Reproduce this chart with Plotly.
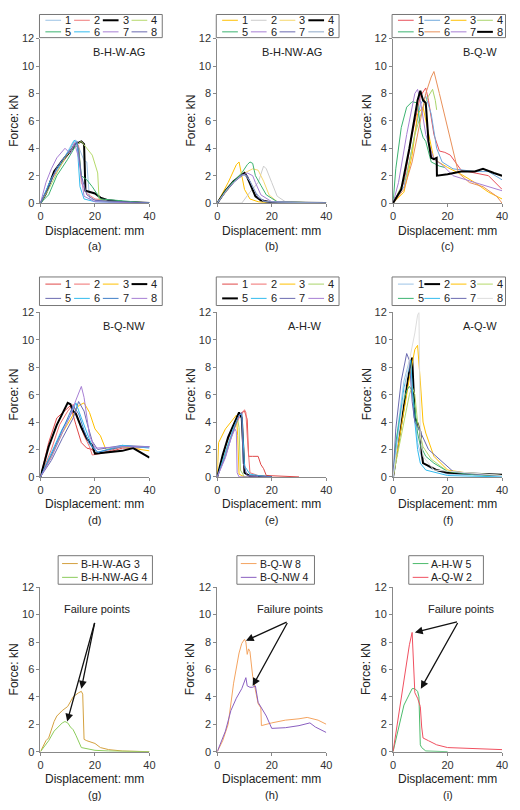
import plotly.graph_objects as go

W, H = 504, 794
OFF = 8
FONT = "Liberation Sans, Arial, sans-serif"

# ---------------- data ----------------
A_NAMES = ["1", "2", "3", "4", "5", "6", "7", "8"]
A_X = [[0,3,6,9,12,13,15,16,17,18,25,40],
       [0,4,8,11,12.5,14,15,17,20,30,40],
       [0,2,5,8,11,13,15,16,16.5,20,22,25,30,35,40],
       [0,3,6,9,12,15,17,19,21,21.5,25,40],
       [0,3,6,10,13,14,15,17,19,22,40],
       [0,4,8,11,12.5,13.5,14.5,16,20,40],
       [0,2,4,6,9,11,12.5,14,16,20,40],
       [0,3,6,9,12,13.5,15,17,20,40]]
A_Y = [[0,1.2,2.5,3.4,4.5,4.6,3.5,3.1,3.0,0.3,0.1,0],
       [0,1.7,2.9,3.8,4.4,4.2,1.5,0.7,0.3,0.1,0],
       [0,0.7,2.3,3.1,3.8,4.3,4.5,4.3,0.9,0.7,0.4,0.2,0.1,0.05,0],
       [0,1,2.2,3.3,4.1,4.5,4.0,3.5,2.2,0.3,0.1,0],
       [0,0.6,2.0,3.2,4.2,4.0,2.0,1.7,1.2,0.3,0],
       [0,1.8,3.1,4.0,4.6,4.2,1.2,0.3,0.1,0],
       [0,1.5,2.5,3.3,4.0,3.6,4.4,3.3,0.5,0.1,0],
       [0,1.2,2.6,3.4,4.1,4.5,2.0,0.6,0.2,0]]
A_COLORS = ["#9dc3e6", "#f07a7a", "#000000", "#b5d96b", "#3cb371", "#33bbee", "#a77fd4", "#6a6ab0"]

B_X = [[0,4,7,8,10,12,15,20,40],
       [0,6,9,12,15,17,18,20,22,25,40],
       [0,4,8,11,13,15,17,19,22,40],
       [0,3,6,9,10,11,13,14,16,20,40],
       [0,3,6,9,11,12,13,14,16,18,22,40],
       [0,3,6,9,11,13,14,16,20,40],
       [0,3,6,9,11,13,15,18,40],
       [0,4,8,10,12,14,17,40]]
B_Y = [[0,1.5,2.8,3.0,1.0,0.3,0.1,0,0],
       [0,0,0,0.8,1.5,2.7,2.5,1.5,0.5,0.1,0],
       [0,1.0,2.0,2.3,2.5,2.4,1.6,0.6,0.1,0],
       [0,0.9,1.6,2.1,2.2,1.9,1.0,0.5,0.2,0.05,0],
       [0,0.9,1.6,2.2,2.8,3.0,2.9,2.0,1.3,0.6,0.1,0],
       [0,0.8,1.5,2.0,2.2,2.0,1.5,0.6,0.1,0],
       [0,0.8,1.5,2.1,2.0,1.2,0.4,0.1,0],
       [0,1.1,1.9,2.1,1.6,0.8,0.1,0]]
B_COLORS = ["#ffc000", "#cccccc", "#f5d76e", "#000000", "#3cb371", "#a77fd4", "#6a6ab0", "#8fa8c8"]

C_X = [[0,4,7,10,12,13,15,17,19,21,25,30,35,40],
       [0,4,7,10,12,14,16,18,22,30,35,40],
       [0,4,7,9,11,13,15,20,25,30,35,40],
       [0,5,8,11,13,14.5,15.5,16],
       [0,1,3,5,7,9,10,11,12,14,17,19],
       [0,4,7,10,12,14,15,17,20,22,24,28,33,38,40],
       [0,2,5,8,9,10,12,15,18,22,30,35,40],
       [0,3,6,9,10,11,12,13,14,15,16,16.1,20,25,30,33,37,40]]
C_Y = [[0,1.5,5,7.8,8.4,7.5,5,3.8,3.7,3.5,2.4,2.2,2.0,1.0],
       [0,1.2,4,7.2,7.8,6.5,4,3.0,2.5,2.3,2.3,1.7],
       [0,0.8,3.5,6.5,7.0,5,3.2,2.6,2.1,1.5,0.8,0.3],
       [0,2,5,7,7.8,8.3,7.5,6.8],
       [0,2.5,5.5,7,7.4,7.3,5.5,4.8,4.5,3.0,2.7,2.6],
       [0,1.0,3,6,8,9.2,9.6,8,5.5,3.8,2.2,1.5,1.2,0.5,0],
       [0,1.5,5,8,8.3,7.5,5,3.2,2.8,2.0,1.5,1.2,0.9],
       [0,1,4,7.5,8.2,7.5,7.3,4.5,3.3,3.2,3.3,2.0,2.1,2.3,2.3,2.5,2.2,2.0]]
C_COLORS = ["#e8505a", "#6fa8dc", "#ffc000", "#a9d46b", "#3cb371", "#e8905a", "#a77fd4", "#000000"]

D_X = [[0,3,6,9,11,13,15,17,19,20,25,30,35,40],
       [0,4,7,10,12,14,16,18,19,22,30,40],
       [0,4,8,12,14,16,18,20,22,24,30,40],
       [0,3,6,9,10,11,12,13,15,17,19,20,25,30,34,38,40],
       [0,4,8,12,14,16,17,19,21,30,40],
       [0,4,8,11,13,15,17,19,21,30,40],
       [0,4,8,11,12,14,16,18,21,30,40],
       [0,4,8,11,13,15,16,17,18,20,30,40]]
D_Y = [[0,2.5,4.3,4.8,5.2,3.8,2.5,2.1,2.0,1.7,1.8,2.1,2.1,2.2],
       [0,2,3.8,4.8,5.3,4.2,3.0,2.2,1.6,1.7,2.2,2.2],
       [0,1.5,3.2,4.5,5.2,5.4,4.7,3.5,3.0,2.0,2.2,1.9],
       [0,2.2,3.8,5,5.4,5.3,4.8,4.6,3.6,2.8,2.3,1.7,1.8,1.9,2.1,1.6,1.4],
       [0,1.2,2.8,4.3,5.5,4.8,4.0,2.6,2.0,2.3,2.2],
       [0,1.8,3.5,4.5,5.4,4.3,3.3,2.2,1.8,2.3,2.1],
       [0,1.6,3.4,4.7,5.2,4.6,3.4,2.4,1.8,2.2,2.2],
       [0,1.4,3.2,4.5,5.6,6.6,5.8,4.5,3.0,2.1,2.2,2.2]]
D_COLORS = ["#e04848", "#f07070", "#ffc000", "#000000", "#6a6ab0", "#33bbee", "#3f7fc8", "#a77fd4"]

E_X = [[0,3,6,8,9,10,11,11.5,13,15,16,17,18,25,30],
       [0,3,6,8,10,10.5,11,12,15,20],
       [0,0.5,3,6,7,7.5,8,10,15],
       [0,3,6,7.5,8,8.5,10,15],
       [0,2,4,6,7.5,8,9,9.5,10,12,20],
       [0,3,6,8,9,10,12,15,20],
       [0,3,6,8,9,9.5,11,20],
       [0,3,5,6.5,7,7.3,8,15]]
E_Y = [[0,2.2,3.8,4.5,4.7,4.8,4.2,1.5,1.5,1.5,0.9,0.6,0.1,0.05,0],
       [0,1.8,3.4,4.3,4.9,4.7,3.0,0.3,0.1,0],
       [0,2.5,3.5,4.3,4.5,3.0,0.2,0,0],
       [0,1.8,3.5,4.2,3.6,0.5,0,0],
       [0,1.6,2.9,3.8,4.6,4.7,4.3,2.0,0.3,0.05,0],
       [0,1.8,3.6,4.5,4.6,0.8,0.2,0.1,0],
       [0,1.5,3.4,4.5,4.7,1.0,0.1,0],
       [0,1.4,2.8,3.5,3.3,0.3,0,0]]
E_COLORS = ["#e04848", "#f07070", "#ffc000", "#a9d46b", "#000000", "#33bbee", "#6a6ab0", "#a77fd4"]

F_X = [[0,2,4,6,6.5,7.5,9,11,14,20,40],
       [0,2,4,6,7,7.2,8,9,10,10.5,11,13,16,20,30,40],
       [0,2,4,6,8,9,10,11,12,15,20,30,40],
       [0,2,4,6,7,8,9,11,14,20,40],
       [0,1,3,5,6,7,8,9,10,12,15,20,30,40],
       [0,2,4,6,6.5,7.5,9,10,12,20,40],
       [0,1,3,5,6,7,8,10,13,17,22,30,40],
       [0,2,4,6,8,9,9.5,10,11,15,40]]
F_Y = [[0,4,7,8.5,8.2,5.5,2.5,1.0,0.6,0.2,0.1],
       [0,2.5,5.2,7.8,8.7,7.5,4.3,3.9,3.3,1.8,1.0,0.8,0.5,0.3,0.2,0.15],
       [0,2.5,5,7.2,9.3,9.6,7,4,3.2,1.5,0.5,0.2,0.1],
       [0,2,4,6,6.6,6.0,4.0,2.2,1.3,0.4,0.1],
       [0,2.5,5,6.3,6.6,6.3,5.0,3.2,2.3,1.5,1.0,0.4,0.15,0.1],
       [0,3.5,6.5,8.3,8.5,5,2.0,1.0,0.5,0.1,0],
       [0,3.5,7,9.0,8.5,5.5,4,3.3,2.0,1.3,0.4,0.2,0.1],
       [0,3,6,8.5,10.5,11.8,12,3.0,1.5,0.5,0.1]]
F_COLORS = ["#9dc3e6", "#000000", "#ffc000", "#b5d96b", "#3cb371", "#33bbee", "#6a6ab0", "#dddddd"]

G_NAMES = ["B-H-W-AG 3", "B-H-NW-AG 4"]
G_X = [[0,2,3,5,6,8,10,12,14,15,15.5,16,17,20,22,25,30,40],
       [0,3,5,7,8,9,10,11,12,13,14,15,20,25,40]]
G_Y = [[0,0.8,1.0,2.2,2.6,3.0,3.3,4.0,4.3,4.4,4.2,0.9,0.8,0.6,0.3,0.15,0.05,0],
       [0,0.8,1.5,1.9,2.1,2.2,2.1,1.8,1.6,1.2,0.8,0.3,0.1,0.05,0]]
G_COLORS = ["#d4a13f", "#8ccc5c"]

H_NAMES = ["B-Q-W 8", "B-Q-NW 4"]
H_X = [[0,2,4,6,8,9,10,10.5,11,11.5,12,13,14,15,16,16.2,20,25,30,33,37,40],
       [0,3,5,7,9,10,10.5,11,12,13,14,15,17,18,20,25,30,34,36,40]]
H_Y = [[0,0.8,2,5.0,7.2,7.9,8.2,8.0,7.1,7.5,7.3,5.5,4.5,3.5,3.2,1.9,2.1,2.3,2.4,2.5,2.3,2.0],
       [0,1.5,3.0,3.9,4.6,5.2,5.4,4.8,4.7,4.7,4.8,3.6,3.0,2.6,1.7,1.75,1.9,2.1,1.8,1.4]]
H_COLORS = ["#f4a460", "#8a5fc0"]

I_NAMES = ["A-H-W 5", "A-Q-W 2"]
I_X = [[0,2,4,6,7,8,9,9.5,10,10.5,12,20],
       [0,2,4,6,7,7.2,8,9,10,10.5,11,13,16,20,30,40]]
I_Y = [[0,1.8,3.4,4.2,4.6,4.6,4.4,4.0,0.5,0.3,0.05,0],
       [0,2.5,5.2,7.8,8.7,7.5,4.3,3.9,3.3,1.8,1.0,0.8,0.5,0.3,0.2,0.15]]
I_COLORS = ["#4cbb6c", "#f05060"]

PANEL_TITLES = ["B-H-W-AG", "B-H-NW-AG", "B-Q-W", "B-Q-NW", "A-H-W", "A-Q-W", "", "", ""]
PANEL_LETTERS = ["(a)", "(b)", "(c)", "(d)", "(e)", "(f)", "(g)", "(h)", "(i)"]
X_TICKS = [0, 20, 40]
Y_TICKS = [0, 2, 4, 6, 8, 10, 12]

# failure point arrows: (tail x, tail y, head x, head y)
FAIL_G = [(20, 9.5, 15, 4.6), (20, 9.5, 9.8, 2.2)]
FAIL_H = [(26, 9.5, 10.5, 8.1), (26, 9.5, 13, 4.8)]
FAIL_I = [(24, 9.5, 8, 8.7), (24, 9.5, 10.2, 4.6)]

# ---------------- layout helpers (page pixel -> paper) ----------------
def px(x): return (x - OFF) / W
def py(y): return 1 - (y - OFF) / H

COLS = [(38, 149), (218, 329), (397, 508)]
ROWS = [(33, 200), (311, 478), (590, 757)]

panels = [
    (A_X, A_Y, A_COLORS, A_NAMES, 2),
    (B_X, B_Y, B_COLORS, A_NAMES, 3),
    (C_X, C_Y, C_COLORS, A_NAMES, 7),
    (D_X, D_Y, D_COLORS, A_NAMES, 3),
    (E_X, E_Y, E_COLORS, A_NAMES, 4),
    (F_X, F_Y, F_COLORS, A_NAMES, 1),
    (G_X, G_Y, G_COLORS, G_NAMES, -1),
    (H_X, H_Y, H_COLORS, H_NAMES, -1),
    (I_X, I_Y, I_COLORS, I_NAMES, -1),
]
fails = [None]*6 + [FAIL_G, FAIL_H, FAIL_I]

fig = go.Figure()
shapes, annos = [], []
axcol = "#888888"
tf = dict(family=FONT, size=11, color="#333333")

def txt(text, x, y, xa="center", ya="middle", size=11, **kw):
    d = dict(text=text, x=x, y=y, xref="paper", yref="paper", xanchor=xa, yanchor=ya,
             showarrow=False, font=dict(family=FONT, size=size, color="#222"))
    d.update(kw)
    return d

for k, (XS, YS, COLS_C, NAMES, bold) in enumerate(panels):
    r, c = divmod(k, 3)
    x0, x1 = COLS[c]
    y0, y1 = ROWS[r]
    ax = "" if k == 0 else str(k + 1)
    for i in range(len(XS)):
        fig.add_trace(go.Scatter(x=XS[i], y=YS[i], mode="lines", showlegend=False,
                                 line=dict(color=COLS_C[i], width=2 if i == bold else 1),
                                 xaxis="x" + ax, yaxis="y" + ax, hoverinfo="skip"))
    common = dict(showgrid=False, zeroline=False, showline=True, linecolor=axcol,
                  ticks="outside", tickcolor=axcol, ticklen=3, tickfont=tf)
    fig.update_layout(**{
        "xaxis" + ax: dict(domain=[px(x0), px(x1)], range=[0, 40], tickvals=X_TICKS,
                           anchor="y" + ax, **common),
        "yaxis" + ax: dict(domain=[py(y1), py(y0)], range=[0, 12], tickvals=Y_TICKS,
                           anchor="x" + ax, **common),
    })
    xc = (x0 + x1) / 2
    annos.append(txt("Displacement: mm", px(xc), py(y1 + 28), size=12))
    annos.append(txt(PANEL_LETTERS[k], px(xc), py(y1 + 44)))
    annos.append(txt("Force: kN", px(x0 - 27), py((y0 + y1) / 2), size=12, textangle=-90))
    if PANEL_TITLES[k]:
        annos.append(dict(text=PANEL_TITLES[k], x=39, y=11, xref="x" + ax, yref="y" + ax,
                          xanchor="right", yanchor="middle", showarrow=False,
                          font=dict(family=FONT, size=11, color="#222")))
    if r < 2:
        by0, by1 = (8.5, 32) if r == 0 else (275, 304)
        bx0 = x0 - 1
        bx1 = bx0 + 125 if c < 2 else 511.5
        shapes.append(dict(type="rect", xref="paper", yref="paper", x0=px(bx0), x1=px(bx1),
                           y0=py(by1), y1=py(by0), line=dict(color="#777", width=1)))
        step = (bx1 - bx0 - 8) / 4
        rowgap = (by1 - by0) / 2
        for i, nm in enumerate(NAMES):
            rr, cc = divmod(i, 4)
            ly = by0 + rowgap * (0.5 + rr)
            lx = bx0 + 6 + cc * step
            shapes.append(dict(type="line", xref="paper", yref="paper", x0=px(lx), x1=px(lx + 16),
                               y0=py(ly), y1=py(ly),
                               line=dict(color=COLS_C[i], width=2 if i == bold else 1)))
            annos.append(txt(nm, px(lx + 18), py(ly), xa="left"))
    else:
        bx0, bx1 = [(56, 152), (238, 317), (413, 489)][c]
        by0, by1 = 558, 587
        shapes.append(dict(type="rect", xref="paper", yref="paper", x0=px(bx0), x1=px(bx1),
                           y0=py(by1), y1=py(by0), line=dict(color="#777", width=1)))
        for i, nm in enumerate(NAMES):
            ly = by0 + 8 + i * 14
            shapes.append(dict(type="line", xref="paper", yref="paper", x0=px(bx0 + 4), x1=px(bx0 + 20),
                               y0=py(ly), y1=py(ly), line=dict(color=COLS_C[i], width=1)))
            annos.append(txt(nm, px(bx0 + 21), py(ly), xa="left", size=10.5))
        fl = fails[k]
        annos.append(dict(text="Failure points", x=fl[0][0] + 1, y=10.4, xref="x" + ax, yref="y" + ax,
                          xanchor="center", yanchor="middle", showarrow=False,
                          font=dict(family=FONT, size=11, color="#222")))
        for (tx, ty, hx, hy) in fl:
            annos.append(dict(text="", x=hx, y=hy, ax=tx, ay=ty, xref="x" + ax, yref="y" + ax,
                              axref="x" + ax, ayref="y" + ax, showarrow=True, arrowhead=2,
                              arrowsize=1.2, arrowwidth=1.3, arrowcolor="#111"))

fig.update_layout(width=W, height=H, margin=dict(l=0, r=0, t=0, b=0),
                  paper_bgcolor="white", plot_bgcolor="white",
                  shapes=shapes, annotations=annos, showlegend=False)
fig.write_html("out.html")
